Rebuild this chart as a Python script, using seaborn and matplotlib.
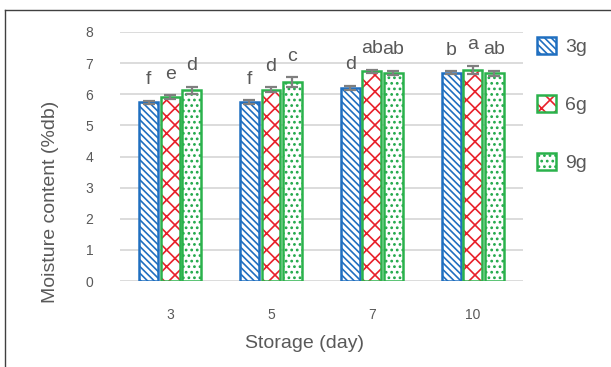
import numpy as np
import pandas as pd
import matplotlib
matplotlib.use("Agg")
import matplotlib.pyplot as plt
import seaborn as sns
from matplotlib.patches import Patch, Rectangle
from matplotlib.lines import Line2D

# Moisture content (%db)
days = ["3", "5", "7", "10"]
doses = ["3g", "6g", "9g"]
moist_3g = [5.74, 5.75, 6.20, 6.69]
moist_6g = [5.90, 6.14, 6.73, 6.78]
moist_9g = [6.12, 6.39, 6.68, 6.68]
err_3g = [0.05, 0.06, 0.07, 0.05]
err_6g = [0.06, 0.08, 0.05, 0.13]
err_9g = [0.12, 0.15, 0.07, 0.08]
letters_3g = ["f", "f", "d", "b"]
letters_6g = ["e", "d", "ab", "a"]
letters_9g = ["d", "c", "ab", "ab"]

df = pd.DataFrame({
    "day": days * 3,
    "dose": [d for d in doses for _ in days],
    "moisture": moist_3g + moist_6g + moist_9g,
})
errs = [err_3g, err_6g, err_9g]
letters = [letters_3g, letters_6g, letters_9g]

# hatch colour, outline colour, hatch pattern per dose
hatch_cols = ["#1f6fc0", "#e8202a", "#21a84a"]
edge_cols = ["#1f6fc0", "#2bb24c", "#2bb24c"]
hatches = ["\\\\\\\\\\", "xx", "..."]

grey = "#7f7f7f"
txt = "#595959"
plt.rcParams["font.family"] = ["Liberation Sans", "DejaVu Sans"]
plt.rcParams["hatch.linewidth"] = 1.2

fig = plt.figure(figsize=(6.11, 3.67), dpi=100)
ax = fig.add_axes([0.196, 0.234, 0.66, 0.679])

sns.barplot(data=df, x="day", y="moisture", hue="dose", order=days, hue_order=doses,
            width=0.64, gap=0.12, errorbar=None, legend=False, ax=ax)

bar_groups = list(ax.containers)
for i, cont in enumerate(bar_groups):
    for j, bar in enumerate(cont):
        bar.set_facecolor("white")
        bar.set_edgecolor(hatch_cols[i])
        bar.set_hatch(hatches[i])
        bar.set_linewidth(0)
        bx, bw, bh = bar.get_x(), bar.get_width(), bar.get_height()
        ax.add_patch(Rectangle((bx, 0), bw, bh, fill=False, edgecolor=edge_cols[i],
                               linewidth=1.8, zorder=3))
        xc = bx + bw / 2
        ax.errorbar(xc, bh, yerr=errs[i][j], color=grey, capsize=4.5, elinewidth=1.6,
                    capthick=1.6, zorder=4)
        ax.annotate(letters[i][j], (xc, bh + errs[i][j]), xytext=(0, 9),
                    textcoords="offset points", ha="center", va="bottom",
                    fontsize=14, color=txt)

ax.set_ylim(0, 8)
ax.set_xlim(-0.5, 3.5)
ax.set_yticks(range(0, 9))
ax.grid(axis="y", color="#d9d9d9", linewidth=1.3)
ax.set_axisbelow(True)
for s in ax.spines.values():
    s.set_visible(False)
ax.tick_params(length=0, labelsize=10, labelcolor=txt)
ax.tick_params(axis="y", pad=19)
ax.tick_params(axis="x", pad=19)
ax.set_xlabel("Storage (day)", fontsize=14, color=txt)
ax.set_ylabel("Moisture content (%db)", fontsize=14, color=txt)
ax.xaxis.set_label_coords(0.457, -0.249)
ax.yaxis.set_label_coords(-0.172, 0.317)
ax.xaxis.label.set_va("center")
ax.yaxis.label.set_va("center")

handles = []
for i in range(3):
    handles.append(Patch(facecolor="white", edgecolor=hatch_cols[i], hatch=hatches[i],
                         linewidth=0))
fig.legend(handles=[(h, Patch(facecolor="none", edgecolor=edge_cols[i], linewidth=1.8))
                    for i, h in enumerate(handles)],
           labels=doses, loc="upper left", bbox_to_anchor=(0.863, 0.927), frameon=False,
           fontsize=14, labelcolor=txt, handlelength=1.0, handleheight=1.0,
           labelspacing=2.0, handletextpad=0.45, borderpad=0)

# outer chart frame (left and top edges visible)
fig.add_artist(Line2D([0.009, 0.009], [0, 0.973], color="#404040", linewidth=1))
fig.add_artist(Line2D([0.009, 1], [0.973, 0.973], color="#404040", linewidth=1))

fig.savefig("out.png", dpi=100)
